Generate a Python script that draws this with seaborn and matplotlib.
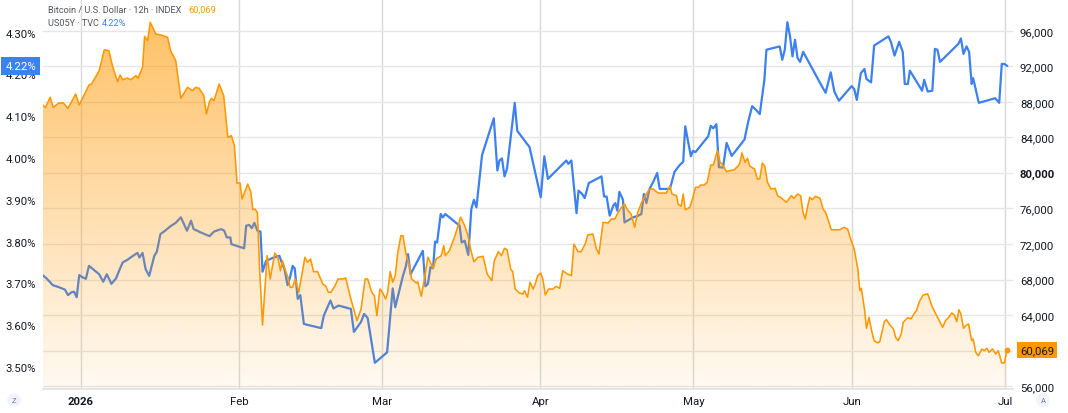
import numpy as np
import pandas as pd
import matplotlib
matplotlib.use("Agg")
import matplotlib.pyplot as plt
import matplotlib.dates as mdates
import seaborn as sns

# days counted from 2026-01-01 (12h series)
btc_day = [-7.5, -6.9, -6.0, -5.4, -4.3, -3.4, -2.5, -1.0, -0.3, 1.6, 2.1, 3.6, 4.6, 5.5, 6.2, 7.2, 7.7, 8.2,
           9.1, 9.8, 10.8, 11.2, 12.1, 12.5, 13.1, 13.6, 14.7, 15.7, 17.0, 17.6, 18.6, 19.6, 20.9, 21.9, 22.5,
           23.2, 24.1, 24.6, 25.2, 25.6, 26.1, 27.1, 28.0, 28.8, 29.5, 30.1, 30.6, 31.2, 31.6, 32.7, 33.3, 33.7,
           34.1, 34.6, 35.0, 35.6, 36.5, 37.1, 38.0, 38.6, 39.1, 39.5, 40.2, 40.6, 41.0, 41.5, 42.0, 42.7, 43.9,
           44.4, 45.0, 45.6, 46.4, 47.4, 48.0, 48.5, 49.0, 49.8, 50.4, 51.3, 51.9, 52.9, 54.1, 54.9, 55.7, 56.2,
           57.0, 57.5, 58.0, 58.6, 59.1, 59.7, 60.1, 60.6, 61.1, 61.6, 62.1, 62.7, 63.1, 63.7, 64.4, 64.8, 65.7,
           66.0, 66.7, 67.3, 68.0, 69.0, 69.6, 70.6, 71.1, 71.4, 72.2, 73.3, 74.4, 75.2, 75.8, 76.5, 77.0, 77.8,
           78.8, 79.6, 80.5, 81.0, 81.8, 82.4, 83.0, 83.5, 84.2, 84.6, 85.1, 85.9, 86.6, 86.9, 87.5, 88.0, 88.6,
           89.0, 89.5, 90.1, 90.5, 91.0, 91.6, 92.5, 93.1, 93.8, 94.4, 95.3, 96.1, 96.6, 97.4, 98.0, 98.8, 99.3,
           100.3, 101.0, 101.5, 102.3, 103.3, 103.9, 104.6, 105.1, 105.9, 106.5, 107.2, 107.8, 108.5, 109.1,
           109.8, 110.5, 110.8, 111.4, 112.1, 113.1, 114.7, 115.4, 115.8, 116.7, 117.0, 117.6, 118.0, 118.4,
           119.3, 119.9, 120.4, 121.0, 121.4, 122.1, 122.7, 123.4, 123.9, 124.7, 125.2, 125.6, 126.5, 127.1,
           128.0, 128.8, 129.1, 129.5, 130.1, 130.6, 131.0, 131.7, 132.0, 132.5, 133.0, 133.5, 134.0, 134.5,
           135.2, 136.0, 136.5, 137.3, 138.2, 139.2, 139.7, 140.4, 141.0, 141.5, 141.9, 142.4, 142.8, 143.3,
           143.9, 144.8, 145.4, 145.9, 147.0, 148.0, 148.7, 149.5, 150.2, 150.8, 151.5, 152.2, 152.6, 152.9,
           153.5, 153.9, 154.4, 154.9, 155.4, 156.1, 156.5, 157.4, 157.8, 158.5, 159.2, 159.6, 160.1, 160.7,
           161.1, 162.0, 162.6, 163.3, 163.7, 164.2, 165.0, 165.9, 166.7, 167.3, 168.0, 168.8, 169.4, 170.0,
           170.6, 171.1, 171.6, 172.0, 172.4, 172.9, 173.3, 173.9, 174.5, 174.8, 175.3, 175.8, 176.5, 177.0,
           177.5, 177.9, 178.6, 179.2, 179.7, 180.4, 180.9, 181.4]
btc_price = [87640, 87380, 88510, 87380, 87870, 87870, 87270, 88880, 87640, 89890, 90000, 91500, 93860, 93750,
             92060, 90260, 91020, 90490, 90680, 90490, 90940, 90650, 91880, 95370, 94880, 96950, 95630, 95520,
             95260, 93750, 92630, 88400, 89630, 89250, 89630, 89520, 88690, 86630, 88010, 88400, 88130, 90000,
             88690, 84010, 84190, 83060, 78870, 78870, 77070, 78750, 77890, 75860, 75940, 75570, 69560, 62890,
             70690, 68070, 70990, 70510, 69000, 70130, 68820, 68260, 67130, 67130, 68070, 66570, 70510, 69950,
             70320, 68890, 68890, 67500, 67250, 66570, 66570, 67310, 68070, 68070, 68180, 65820, 63380, 64690,
             68070, 68070, 66570, 66190, 63940, 66940, 66570, 65820, 66570, 68890, 67700, 68440, 71070, 72940,
             72940, 70880, 69560, 68070, 67620, 67760, 66120, 68070, 70510, 69270, 70320, 70690, 71810, 70690,
             71250, 72940, 75010, 74060, 73020, 71070, 70010, 70510, 70620, 68630, 67880, 70130, 71140, 70690,
             71520, 71360, 69190, 68890, 66940, 66490, 66380, 66750, 66010, 67700, 66940, 67500, 68440, 68740,
             68070, 66270, 66940, 66940, 67250, 67020, 69000, 68630, 68440, 72000, 71140, 71140, 72000, 73020,
             73130, 71440, 70880, 74450, 74370, 74820, 74820, 75380, 76130, 76500, 75750, 75380, 73880, 75570,
             76620, 77370, 77630, 78190, 78190, 77740, 77740, 78560, 77630, 77440, 76500, 76250, 77630, 75860,
             76130, 77260, 78380, 78380, 78640, 78640, 78950, 80890, 80890, 82500, 81260, 81000, 80140, 80250,
             80360, 80810, 81120, 82240, 81200, 81650, 80810, 80520, 80440, 79320, 79320, 81120, 80750, 78950,
             78190, 78270, 77440, 77150, 76700, 77440, 77150, 77630, 77440, 75490, 74820, 76310, 77260, 76990,
             77370, 77150, 75940, 75570, 73610, 73610, 73610, 73880, 73690, 72570, 71440, 69190, 66750, 67020,
             64690, 62520, 63760, 62250, 61130, 60870, 61010, 63260, 63490, 62890, 62440, 61510, 61130, 61880,
             63200, 63710, 63570, 64240, 64500, 65450, 66270, 66380, 65060, 64320, 63570, 62630, 63380, 63760,
             64240, 64020, 63260, 64610, 64130, 62520, 62810, 63000, 61130, 61320, 59820, 59440, 60190, 60000,
             60270, 59820, 60190, 59630, 60000, 58620, 58620, 60069]

yld_day = [-7.5, -6.7, -5.5, -4.3, -3.1, -2.5, -1.8, -1.3, -0.8, -0.3, 0.3, 1.0, 1.6, 2.6, 3.6, 4.4, 5.1, 6.0,
           6.9, 7.5, 8.2, 9.2, 10.1, 11.1, 11.5, 12.1, 12.7, 13.4, 14.4, 14.9, 15.6, 16.5, 17.6, 18.6, 19.6,
           20.1, 20.8, 21.6, 22.1, 23.5, 25.2, 26.1, 27.5, 28.1, 28.6, 29.3, 29.5, 30.7, 32.0, 32.4, 33.0, 33.5,
           34.0, 34.6, 35.2, 35.6, 36.3, 37.6, 38.9, 39.3, 39.9, 40.5, 41.0, 41.5, 41.9, 42.5, 43.0, 43.7, 47.1,
           47.6, 48.9, 49.5, 50.5, 52.9, 53.5, 54.9, 55.5, 56.2, 57.6, 60.0, 61.1, 61.6, 63.1, 63.7, 64.1, 64.6,
           67.0, 67.5, 68.0, 68.5, 69.0, 69.4, 69.8, 70.5, 70.9, 71.4, 74.2, 74.6, 75.2, 75.9, 76.5, 77.0, 77.5,
           78.6, 80.9, 81.6, 82.0, 82.5, 83.0, 83.5, 85.0, 85.5, 87.9, 90.1, 90.8, 91.5, 95.1, 95.5, 96.1, 97.1,
           97.5, 98.2, 98.7, 99.5, 102.0, 102.5, 103.0, 103.6, 104.3, 104.7, 105.1, 105.5, 106.2, 106.5, 108.2,
           109.2, 109.8, 110.3, 110.8, 111.4, 112.1, 112.9, 113.4, 115.4, 116.3, 117.3, 118.0, 118.4, 119.5,
           119.9, 120.4, 122.9, 123.4, 123.9, 124.5, 125.0, 125.8, 126.5, 127.5, 130.0, 130.7, 131.5, 132.2,
           133.0, 133.9, 134.3, 136.9, 137.4, 137.9, 138.4, 138.9, 139.4, 139.9, 140.4, 140.9, 141.5, 145.1,
           145.9, 146.9, 147.6, 148.5, 151.0, 151.5, 152.0, 152.8, 153.5, 153.9, 154.8, 155.4, 158.2, 158.7,
           159.4, 160.3, 161.0, 161.4, 162.0, 162.4, 164.8, 165.2, 165.9, 166.8, 167.3, 167.8, 168.3, 171.9,
           172.4, 172.9, 173.5, 174.0, 174.5, 174.8, 175.9, 179.1, 179.9, 180.4, 180.9, 181.5]
yld_pct = [3.720, 3.712, 3.696, 3.691, 3.685, 3.672, 3.679, 3.680, 3.667, 3.720, 3.715, 3.711, 3.742, 3.732,
           3.722, 3.704, 3.722, 3.699, 3.712, 3.730, 3.750, 3.757, 3.765, 3.773, 3.762, 3.773, 3.734, 3.718,
           3.766, 3.776, 3.818, 3.826, 3.837, 3.845, 3.858, 3.845, 3.826, 3.850, 3.830, 3.822, 3.813, 3.824,
           3.830, 3.826, 3.810, 3.810, 3.794, 3.789, 3.784, 3.838, 3.840, 3.832, 3.845, 3.826, 3.824, 3.728,
           3.754, 3.761, 3.766, 3.752, 3.734, 3.696, 3.715, 3.742, 3.736, 3.663, 3.672, 3.603, 3.593, 3.623,
           3.659, 3.640, 3.647, 3.639, 3.584, 3.608, 3.627, 3.617, 3.510, 3.535, 3.688, 3.643, 3.718, 3.742,
           3.770, 3.722, 3.778, 3.693, 3.699, 3.739, 3.736, 3.800, 3.798, 3.866, 3.858, 3.866, 3.838, 3.798,
           3.802, 3.768, 3.878, 3.900, 3.882, 4.007, 4.095, 3.970, 3.994, 3.999, 3.956, 3.975, 4.132, 4.065,
           4.026, 3.906, 4.004, 3.950, 3.994, 3.986, 3.994, 3.868, 3.922, 3.914, 3.904, 3.940, 3.956, 3.908,
           3.908, 3.862, 3.886, 3.892, 3.874, 3.919, 3.900, 3.846, 3.858, 3.862, 3.866, 3.914, 3.892, 3.926,
           3.942, 3.964, 3.926, 3.926, 3.967, 3.983, 3.991, 4.076, 4.004, 4.017, 4.014, 4.052, 4.077, 4.071,
           4.081, 3.978, 3.977, 4.036, 4.005, 4.044, 4.085, 4.124, 4.116, 4.105, 4.187, 4.259, 4.267, 4.235,
           4.259, 4.325, 4.293, 4.243, 4.283, 4.239, 4.230, 4.254, 4.173, 4.156, 4.205, 4.159, 4.137, 4.172,
           4.165, 4.139, 4.203, 4.213, 4.189, 4.181, 4.269, 4.291, 4.277, 4.245, 4.278, 4.254, 4.177, 4.177,
           4.209, 4.161, 4.187, 4.159, 4.161, 4.261, 4.259, 4.230, 4.273, 4.286, 4.249, 4.267, 4.254, 4.177,
           4.191, 4.132, 4.143, 4.132, 4.225, 4.225, 4.22]

month_ticks = ["2026-01-01", "2026-02-01", "2026-03-01", "2026-04-01", "2026-05-01", "2026-06-01", "2026-07-01"]
month_labels = ["2026", "Feb", "Mar", "Apr", "May", "Jun", "Jul"]
btc_ticks = [56000, 60000, 64000, 68000, 72000, 76000, 80000, 84000, 88000, 92000, 96000]
yld_ticks = [3.5, 3.6, 3.7, 3.8, 3.9, 4.0, 4.1, 4.2, 4.3]

ORANGE = "#ff9800"
BLUE = "#3d80f0"
TXT = "#131722"
GREY = "#50535e"

base = pd.Timestamp("2026-01-01")
btc = pd.DataFrame({"date": base + pd.to_timedelta(btc_day, unit="D"), "price": btc_price})
yld = pd.DataFrame({"date": base + pd.to_timedelta(yld_day, unit="D"), "pct": yld_pct})

sns.set_theme(style="white")
plt.rcParams["font.family"] = ["Roboto", "DejaVu Sans"]

fig = plt.figure(figsize=(10.68, 4.14), dpi=100)
ax = fig.add_axes([43 / 1068, 24 / 414, 970 / 1068, 390 / 414])   # grid + price scale
ax_y = ax.twinx()                                                 # yield, left scale
ax_b = ax.twinx()                                                 # bitcoin on top

x0 = base + pd.Timedelta(days=-7.4)
x1 = base + pd.Timedelta(days=182.6)
btc_lim = (55690, 99570)
yld_lim = (3.4474, 4.3804)

for a in (ax, ax_y, ax_b):
    a.set_xlim(x0, x1)
    for s in a.spines.values():
        s.set_visible(False)
ax.set_ylim(*btc_lim)
ax_b.set_ylim(*btc_lim)
ax_y.set_ylim(*yld_lim)

# grid and price scale on the right
ax.set_yticks(btc_ticks)
ax.set_xticks(pd.to_datetime(month_ticks))
ax.grid(axis="y", color="#e6e6e6", lw=1)
ax.grid(axis="x", color="#d9d9d9", lw=1)
ax.spines["bottom"].set_visible(True)
ax.spines["bottom"].set_color("#e0e3eb")
ax.yaxis.tick_right()
# the 60,000 label sits behind the last price badge
ax.set_yticklabels(["" if v == 60000 else f"{v:,}" for v in btc_ticks])
ax.tick_params(axis="y", length=0, pad=5, labelsize=8.2, labelcolor=TXT)
ax.set_xticklabels(month_labels)
ax.tick_params(axis="x", length=0, pad=5, labelsize=8.2, labelcolor=TXT)
for lab in ax.get_yticklabels():
    if lab.get_text() == "80,000":
        lab.set_fontweight("bold")
ax.get_xticklabels()[0].set_fontweight("bold")

# yield on the left scale
sns.lineplot(data=yld, x="date", y="pct", ax=ax_y, color=BLUE, lw=1.6, estimator=None, sort=False)
ax_y.yaxis.tick_left()
ax_y.set_yticks(yld_ticks)
ax_y.set_yticklabels([f"{v:.2f}%" for v in yld_ticks])
ax_y.tick_params(axis="y", length=0, pad=5, labelsize=8.2, labelcolor=TXT)
ax_y.set_xlabel("")
ax_y.set_ylabel("")
ax_y.grid(False)

# bitcoin line with gradient area
sns.lineplot(data=btc, x="date", y="price", ax=ax_b, color=ORANGE, lw=1.15, estimator=None, sort=False)
ax_b.set_yticks([])
ax_b.set_xlabel("")
ax_b.set_ylabel("")
ax_b.grid(False)
poly = ax_b.fill_between(btc["date"], btc["price"], btc_lim[0], color="none", lw=0)
grad = np.zeros((256, 1, 4))
grad[..., 0] = 1.0
grad[..., 1] = 152 / 255
grad[..., 2] = 0.0
grad[..., 3] = np.linspace(0.05, 0.6, 256)[:, None]
xd = mdates.date2num([btc["date"].iloc[0], btc["date"].iloc[-1]])
im = ax_b.imshow(grad, extent=[xd[0], xd[1], btc_lim[0], max(btc_price)], origin="lower",
                 aspect="auto", zorder=1)
im.set_clip_path(poly.get_paths()[0], transform=ax_b.transData)
ax_b.set_xlim(x0, x1)
ax_b.set_ylim(*btc_lim)
ax_b.scatter(btc["date"].iloc[-1], btc_price[-1], s=10, color=ORANGE, zorder=5)
ax.set_xlabel("")
ax.set_ylabel("")

# last value badges
ax_b.annotate(f"{btc_price[-1]:,}", xy=(1, btc_price[-1]), xycoords=("axes fraction", "data"),
              xytext=(5, 0), textcoords="offset points", ha="left", va="center", fontsize=8.2,
              color=TXT, annotation_clip=False,
              bbox=dict(boxstyle="square,pad=0.3", fc=ORANGE, ec="none"))
ax_y.annotate(f"{yld_pct[-1]:.2f}%", xy=(0, yld_pct[-1]), xycoords=("axes fraction", "data"),
              xytext=(-5, 0), textcoords="offset points", ha="right", va="center", fontsize=8.2,
              color="white", annotation_clip=False,
              bbox=dict(boxstyle="square,pad=0.35", fc=BLUE, ec="none"))

# legend header
fig.text(48 / 1068, 1 - 10.5 / 414, "Bitcoin / U.S. Dollar · 12h · INDEX", fontsize=6.6, color=GREY, va="center")
fig.text(188 / 1068, 1 - 10.5 / 414, f"{btc_price[-1]:,}", fontsize=6.6, color=ORANGE, va="center")
fig.text(48 / 1068, 1 - 23.3 / 414, "US05Y · TVC", fontsize=6.6, color=GREY, va="center")
fig.text(102 / 1068, 1 - 23.3 / 414, f"{yld_pct[-1]:.2f}%", fontsize=6.6, color=BLUE, va="center")

# small corner buttons
for xp, ch in ((14, "Z"), (1043, "A")):
    fig.text(xp / 1068, 1 - 401 / 414, ch, fontsize=5.5, color="#787b86", ha="center", va="center",
             bbox=dict(boxstyle="circle,pad=0.5", fc="#f0f3fa", ec="none"))

fig.savefig("out.png", dpi=100)
